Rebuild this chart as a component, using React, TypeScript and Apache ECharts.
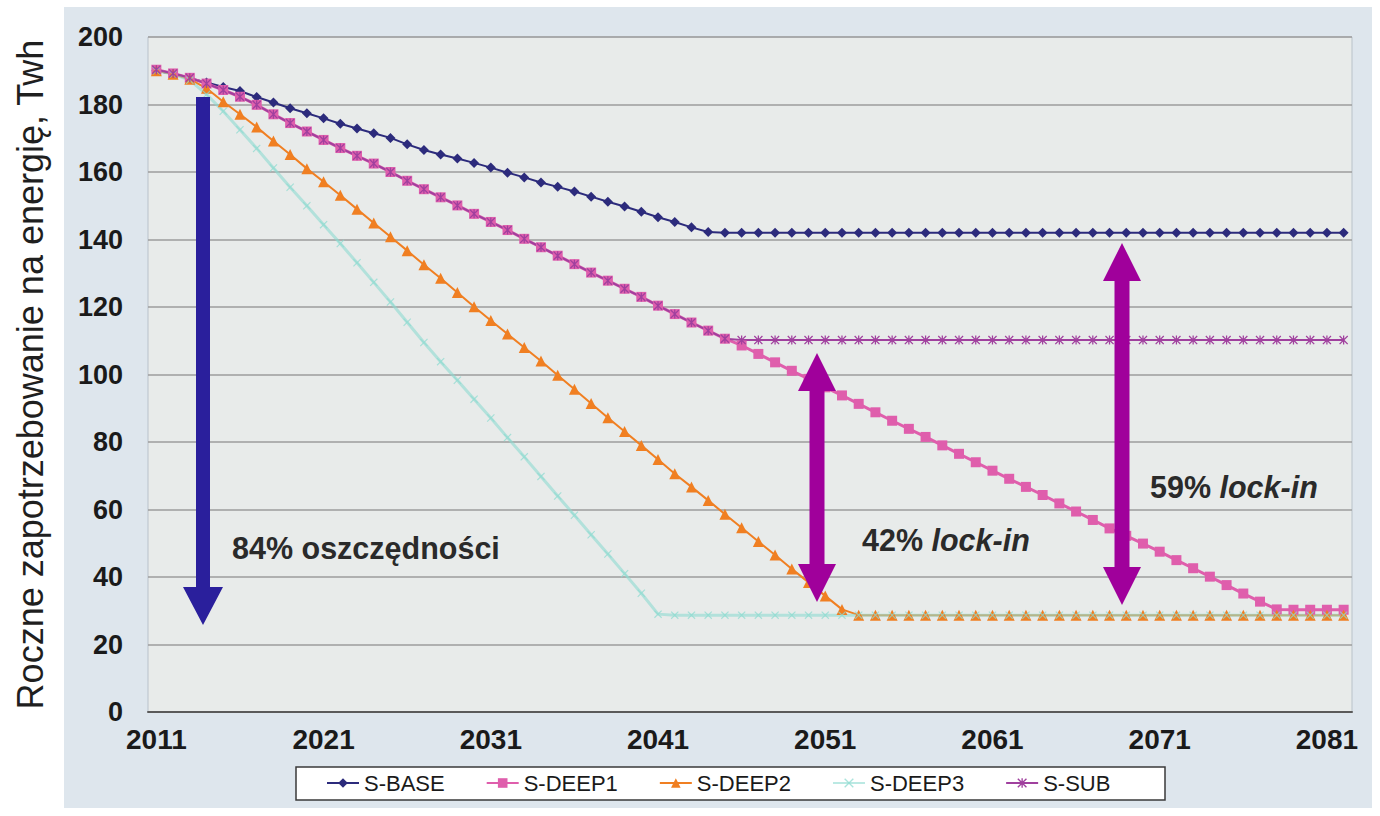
import React, { useEffect, useRef } from "react";
import * as echarts from "echarts";

const years = [
  "2011", "2012", "2013", "2014", "2015", "2016", "2017", "2018", "2019", "2020",
  "2021", "2022", "2023", "2024", "2025", "2026", "2027", "2028", "2029", "2030",
  "2031", "2032", "2033", "2034", "2035", "2036", "2037", "2038", "2039", "2040",
  "2041", "2042", "2043", "2044", "2045", "2046", "2047", "2048", "2049", "2050",
  "2051", "2052", "2053", "2054", "2055", "2056", "2057", "2058", "2059", "2060",
  "2061", "2062", "2063", "2064", "2065", "2066", "2067", "2068", "2069", "2070",
  "2071", "2072", "2073", "2074", "2075", "2076", "2077", "2078", "2079", "2080",
  "2081", "2082",
];

const sBase = [
  190, 189, 187.8, 186.5, 185.2, 184, 182.2, 180.6, 178.9, 177.4,
  175.9, 174.3, 172.9, 171.5, 170.1, 168.2, 166.5, 165.2, 164, 162.7,
  161.3, 159.8, 158.4, 156.9, 155.6, 154.2, 152.7, 151.2, 149.8, 148.2,
  146.6, 145.2, 143.6, 142.2, 142, 142, 142, 142, 142, 142,
  142, 142, 142, 142, 142, 142, 142, 142, 142, 142,
  142, 142, 142, 142, 142, 142, 142, 142, 142, 142,
  142, 142, 142, 142, 142, 142, 142, 142, 142, 142,
  142, 142,
];

const sDeep1 = [
  190.3, 189.2, 187.9, 186.2, 184.3, 182.3, 179.9, 177.1, 174.5, 172,
  169.5, 167.1, 164.8, 162.5, 160, 157.4, 154.9, 152.5, 150.1, 147.6,
  145.2, 142.8, 140.2, 137.7, 135.2, 132.7, 130.2, 127.8, 125.4, 123,
  120.4, 117.9, 115.4, 113, 110.6, 108.6, 106.1, 103.6, 101.1, 98.7,
  96.2, 93.8, 91.3, 88.8, 86.3, 83.9, 81.5, 79, 76.5, 74,
  71.5, 69.1, 66.7, 64.3, 61.8, 59.4, 56.9, 54.4, 52.2, 49.9,
  47.5, 45, 42.6, 40.1, 37.6, 35.1, 32.7, 30.4, 30.3, 30.3,
  30.3, 30.3,
];

const sDeep2 = [
  190, 189, 187.5, 184.8, 180.8, 177.1, 173.3, 169.2, 165.2, 161,
  157.1, 153.1, 149, 144.9, 140.8, 136.7, 132.5, 128.5, 124.3, 120.1,
  116, 112, 108, 104, 99.8, 95.6, 91.4, 87.2, 83.1, 79,
  74.8, 70.6, 66.7, 62.7, 58.6, 54.6, 50.5, 46.5, 42.4, 38.4,
  34.4, 30.4, 28.7, 28.7, 28.7, 28.7, 28.7, 28.7, 28.7, 28.7,
  28.7, 28.7, 28.7, 28.7, 28.7, 28.7, 28.7, 28.7, 28.7, 28.7,
  28.7, 28.7, 28.7, 28.7, 28.7, 28.7, 28.7, 28.7, 28.7, 28.7,
  28.7, 28.7,
];

const sDeep3 = [
  190, 189, 187.2, 183, 178, 172.5, 167, 161.2, 155.5, 150,
  144.4, 138.8, 133.1, 127.3, 121.5, 115.5, 109.5, 103.8, 98.3, 92.7,
  87.1, 81.3, 75.6, 69.8, 64, 58.3, 52.5, 46.8, 41, 35.2,
  29, 28.7, 28.7, 28.7, 28.7, 28.7, 28.7, 28.7, 28.7, 28.7,
  28.7, 28.7, 28.7, 28.7, 28.7, 28.7, 28.7, 28.7, 28.7, 28.7,
  28.7, 28.7, 28.7, 28.7, 28.7, 28.7, 28.7, 28.7, 28.7, 28.7,
  28.7, 28.7, 28.7, 28.7, 28.7, 28.7, 28.7, 28.7, 28.7, 28.7,
  28.7, 28.7,
];

const sSub = [
  190.3, 189.2, 187.9, 186.2, 184.3, 182.3, 179.9, 177.1, 174.5, 172,
  169.5, 167.1, 164.8, 162.5, 160, 157.4, 154.9, 152.5, 150.1, 147.6,
  145.2, 142.8, 140.2, 137.7, 135.2, 132.7, 130.2, 127.8, 125.4, 123,
  120.4, 117.9, 115.4, 113, 110.6, 110.2, 110.2, 110.2, 110.2, 110.2,
  110.2, 110.2, 110.2, 110.2, 110.2, 110.2, 110.2, 110.2, 110.2, 110.2,
  110.2, 110.2, 110.2, 110.2, 110.2, 110.2, 110.2, 110.2, 110.2, 110.2,
  110.2, 110.2, 110.2, 110.2, 110.2, 110.2, 110.2, 110.2, 110.2, 110.2,
  110.2, 110.2,
];

const seriesNames = ["S-BASE", "S-DEEP1", "S-DEEP2", "S-DEEP3", "S-SUB"];

const yTitle = "Roczne zapotrzebowanie na energię, Twh";

const X_SYMBOL =
  "path://M1,0 L5,4 L9,0 L10,1 L6,5 L10,9 L9,10 L5,6 L1,10 L0,9 L4,5 L0,1 Z";
const STAR_SYMBOL =
  "path://M1,0 L5,4 L9,0 L10,1 L6,5 L10,9 L9,10 L5,6 L1,10 L0,9 L4,5 L0,1 Z M4.3,0 L5.7,0 L5.7,10 L4.3,10 Z";

function doubleArrow(cx: number, top: number, bot: number, color: string) {
  const hw = 19;
  const hh = 38;
  const sw = 7.5;
  return {
    type: "polygon",
    z: 100,
    shape: {
      points: [
        [cx, top],
        [cx + hw, top + hh],
        [cx + sw, top + hh],
        [cx + sw, bot - hh],
        [cx + hw, bot - hh],
        [cx, bot],
        [cx - hw, bot - hh],
        [cx - sw, bot - hh],
        [cx - sw, top + hh],
        [cx - hw, top + hh],
      ],
    },
    style: { fill: color },
  };
}

function downArrow(cx: number, top: number, bot: number, color: string) {
  const hw = 20;
  const hh = 38;
  const sw = 7;
  return {
    type: "polygon",
    z: 100,
    shape: {
      points: [
        [cx - sw, top],
        [cx + sw, top],
        [cx + sw, bot - hh],
        [cx + hw, bot - hh],
        [cx, bot],
        [cx - hw, bot - hh],
        [cx - sw, bot - hh],
      ],
    },
    style: { fill: color },
  };
}

const FONT = "Liberation Sans, Arial, sans-serif";
const ANN = 30.5;

export default function App() {
  const ref = useRef<HTMLDivElement>(null);

  useEffect(() => {
    if (!ref.current) return;
    const chart = echarts.init(ref.current, null, { renderer: "svg" });
    const mk = (
      name: string,
      data: number[],
      color: string,
      symbol: string,
      symbolSize: number,
      width: number,
      extra: any = {}
    ) => ({
      name,
      type: "line",
      data,
      symbol,
      symbolSize,
      showAllSymbol: true,
      itemStyle: { color },
      lineStyle: { color, width },
      emphasis: { disabled: true },
      ...extra,
    });
    const richText = {
      a: { fontSize: ANN, fontWeight: "bold", fontFamily: FONT, fill: "#2a2a2a", color: "#2a2a2a" },
      b: { fontSize: ANN, fontWeight: "bold", fontStyle: "italic", fontFamily: FONT, fill: "#2a2a2a", color: "#2a2a2a" },
    };
    chart.setOption({
      animation: false,
      backgroundColor: "transparent",
      textStyle: { fontFamily: FONT },
      grid: {
        left: 148,
        right: 28,
        top: 37,
        bottom: 104,
        show: true,
        backgroundColor: "#e8ebea",
        borderColor: "#b9c2ca",
        borderWidth: 1,
      },
      legend: {
        data: seriesNames,
        left: 326,
        top: 772,
        padding: 0,
        itemGap: 41,
        itemWidth: 32,
        itemHeight: 12,
        textStyle: { fontSize: 22, color: "#1a1a1a", fontFamily: FONT },
      },
      xAxis: {
        type: "category",
        data: years,
        boundaryGap: true,
        axisLine: { lineStyle: { color: "#5a5a5a", width: 2 } },
        axisTick: { show: false },
        axisLabel: {
          interval: 9,
          fontSize: 28,
          fontWeight: "bold",
          color: "#1a1a1a",
          margin: 13,
          fontFamily: FONT,
        },
        splitLine: { show: false },
      },
      yAxis: {
        type: "value",
        min: 0,
        max: 200,
        interval: 20,
        name: yTitle,
        nameLocation: "middle",
        nameGap: 100,
        nameTextStyle: { fontSize: 36, color: "#1f1f1f", fontFamily: FONT },
        axisLine: { show: false },
        axisTick: { show: false },
        axisLabel: {
          fontSize: 27,
          fontWeight: "bold",
          color: "#1a1a1a",
          margin: 25,
          fontFamily: FONT,
        },
        splitLine: { lineStyle: { color: "#9c9c9c", width: 1.5 } },
      },
      series: [
        mk(seriesNames[0], sBase, "#2c2b7c", "diamond", 10, 2),
        mk(seriesNames[1], sDeep1, "#df5eac", "rect", 10, 3),
        mk(seriesNames[2], sDeep2, "#f07f22", "triangle", 11, 2),
        mk(seriesNames[3], sDeep3, "#8edbd0", X_SYMBOL, 8, 3, {
          lineStyle: { color: "#8edbd0", width: 3, opacity: 0.6 },
          itemStyle: { color: "#8edbd0", opacity: 0.75 },
        }),
        mk(seriesNames[4], sSub, "#a0409e", STAR_SYMBOL, 9, 2),
      ],
      graphic: [
        {
          type: "rect",
          z: -1,
          shape: { x: 296, y: 767, width: 869, height: 33 },
          style: { fill: "#ffffff", stroke: "#3a3a3a", lineWidth: 1.5 },
        },
        downArrow(203, 97, 625, "#2a1f9c"),
        doubleArrow(817, 353, 602, "#a0009b"),
        doubleArrow(1122, 243, 605, "#a0009b"),
        {
          type: "text",
          z: 100,
          x: 232,
          y: 548,
          style: {
            text: "84% oszczędności",
            fontSize: ANN,
            fontWeight: "bold",
            fontFamily: FONT,
            fill: "#2a2a2a",
            verticalAlign: "middle",
          },
        },
        {
          type: "text",
          z: 100,
          x: 862,
          y: 540,
          style: { text: "{a|42% }{b|lock-in}", verticalAlign: "middle", rich: richText },
        },
        {
          type: "text",
          z: 100,
          x: 1150,
          y: 487,
          style: { text: "{a|59% }{b|lock-in}", verticalAlign: "middle", rich: richText },
        },
      ],
    });
    return () => chart.dispose();
  }, []);

  return (
    <div style={{ position: "fixed", left: 0, top: 0, width: 1380, height: 816, background: "#ffffff" }}>
      <div
        style={{
          position: "absolute",
          left: 64,
          top: 7,
          width: 1308,
          height: 801,
          background: "#dee6ed",
        }}
      />
      <div ref={ref} style={{ position: "absolute", left: 0, top: 0, width: 1380, height: 816 }} />
    </div>
  );
}
